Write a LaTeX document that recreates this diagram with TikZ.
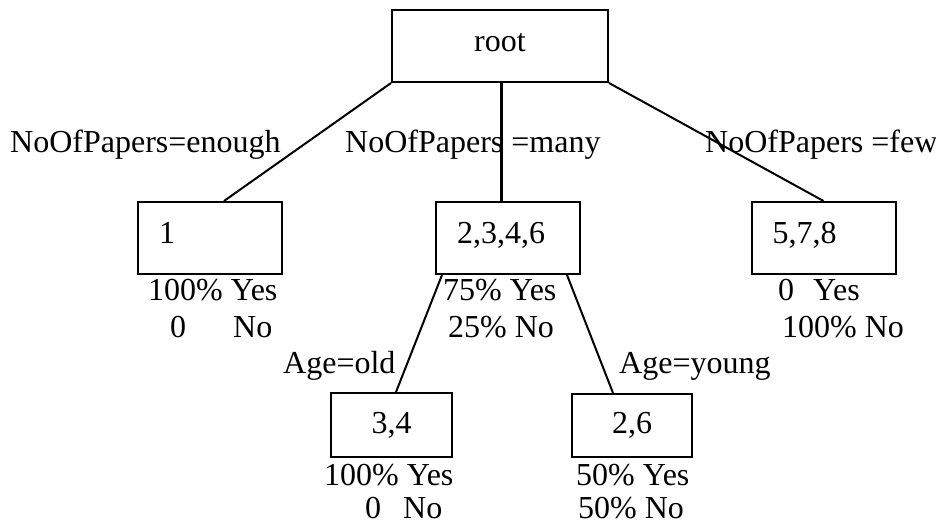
\documentclass[tikz,border=0pt]{standalone}
\usepackage{fontspec}
\setmainfont{Liberation Serif}
\usetikzlibrary{calc}
\begin{document}
\begin{tikzpicture}[x=1pt,y=-1pt,
  every node/.style={font=\fontsize{32}{38}\selectfont},
  box/.style={draw,line width=2pt,inner sep=0pt},
  topbox/.style={box,minimum width=144pt,minimum height=72pt,text width=102pt,align=left,inner xsep=21pt,text height=22pt,text depth=11pt},
  lowbox/.style={box,minimum width=121pt,minimum height=64pt},
  lbl/.style={inner sep=0pt,anchor=base west},
  edge/.style={line width=2pt}]
\useasboundingbox (0,0) rectangle (936,527);
% boxes
\node[box,minimum width=216pt,minimum height=72pt,text height=22pt,text depth=11pt] (root) at (500,46) {root};
\node[topbox] (b1) at (210,238) {1};
\node[topbox] (b2) at (508,238) {2,3,4,6};
\node[topbox] (b3) at (823.5,238) {5,7,8};
\node[lowbox] (b34) at (391.5,425) {3,4};
\node[lowbox,minimum width=120pt,minimum height=63pt] (b26) at (632,425.5) {2,6};
% connectors
\coordinate (m) at ([xshift=1pt]root.south);
\draw[edge] (root.south west) -- ([xshift=14pt]b1.north);
\draw[line width=3pt] (m) -- (m |- b2.north);
\draw[edge] (root.south east) -- (b3.north);
\draw[edge] ([xshift=7pt]b2.south west) -- ([xshift=4.5pt]b34.north);
\draw[edge] ([xshift=-14pt]b2.south east) -- ([xshift=-19pt]b26.north);
% branch labels
\node[lbl] (l1) at (10,152) {NoOfPapers=enough};
\node[lbl] (l2) at (345,152) {NoOfPapers =many};
\node[lbl] (l3) at (705,152) {NoOfPapers =few};
\node[lbl] (l4) at (283,373) {Age=old};
\node[lbl] (l5) at (619,373) {Age=young};
% statistics
\node[lbl] (s1a) at (148,300) {100\% Yes};
\node[lbl] (s1b) at (170,337) {0\hspace{47pt}No};
\node[lbl] (s2a) at (443,300) {75\% Yes};
\node[lbl] (s2b) at (448,337) {25\% No};
\node[lbl] (s3a) at (778,300) {0\hspace{19pt}Yes};
\node[lbl] (s3b) at (782,337) {100\% No};
\node[lbl] (s4a) at (324,485) {100\% Yes};
\node[lbl] (s4b) at (365,518) {0\hspace{22pt}No};
\node[lbl] (s5a) at (576,485) {50\% Yes};
\node[lbl] (s5b) at (578,518) {50\% No};
\end{tikzpicture}
\end{document}
